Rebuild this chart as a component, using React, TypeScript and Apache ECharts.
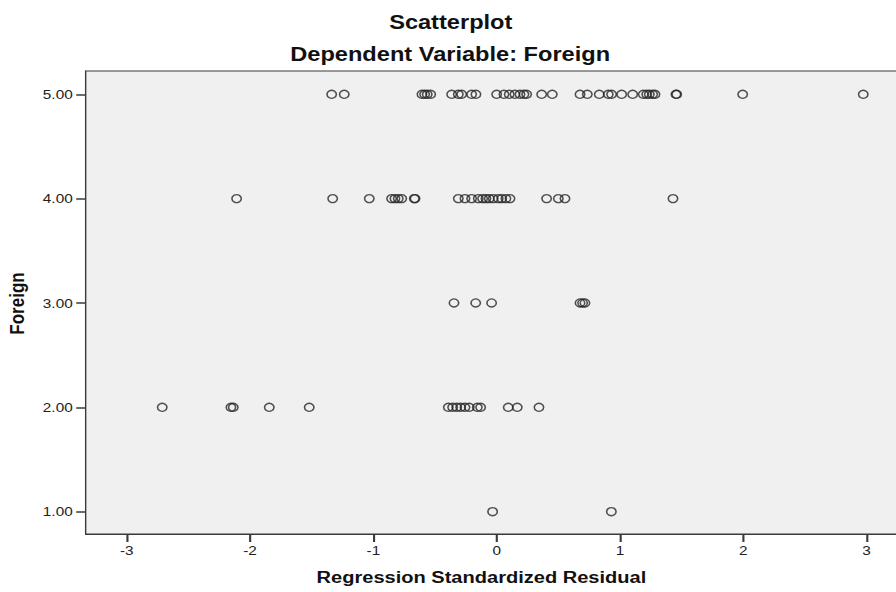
import React, { useEffect, useRef } from "react";
import * as echarts from "echarts";

// Regression standardized residuals, grouped by the observed value of Foreign
const residualsForeign5 = [
  -1.338, -1.236, -0.606, -0.584, -0.563, -0.535, -0.365, -0.311, -0.284, -0.203,
  -0.168, 0.0, 0.059, 0.102, 0.148, 0.189, 0.221, 0.243, 0.365, 0.451, 0.676, 0.735,
  0.832, 0.905, 0.932, 1.014, 1.103, 1.189, 1.217, 1.238, 1.265, 1.284, 1.454, 1.46,
  1.995, 2.973,
];
const residualsForeign4 = [
  -2.109, -1.33, -1.033, -0.852, -0.825, -0.798, -0.77, -0.668, -0.662, -0.311,
  -0.257, -0.203, -0.149, -0.114, -0.087, -0.06, -0.028, 0.013, 0.041, 0.075, 0.108,
  0.405, 0.5, 0.554, 1.43,
];
const residualsForeign3 = [-0.346, -0.17, -0.041, 0.676, 0.697, 0.716];
const residualsForeign2 = [
  -2.712, -2.155, -2.136, -1.844, -1.52, -0.392, -0.357, -0.324, -0.292, -0.257,
  -0.222, -0.157, -0.13, 0.094, 0.167, 0.343,
];
const residualsForeign1 = [-0.033, 0.93];

const foreignLevels = [5, 4, 3, 2, 1];
const residualGroups = [
  residualsForeign5,
  residualsForeign4,
  residualsForeign3,
  residualsForeign2,
  residualsForeign1,
];

const xTickValues = [-3, -2, -1, 0, 1, 2, 3];
const yTickValues = [1, 2, 3, 4, 5];

const titleText = "Scatterplot";
const subtitleText = "Dependent Variable: Foreign";
const xAxisTitle = "Regression Standardized Residual";
const yAxisTitle = "Foreign";

const STRETCH = 1.18;
const W = 780;
const H = 592;
const FONT = "'Liberation Sans', Arial, sans-serif";

export default function App() {
  const ref = useRef<HTMLDivElement>(null);

  useEffect(() => {
    if (!ref.current) return;
    const chart = echarts.init(ref.current, null, { renderer: "svg", width: W, height: H });

    const points: number[][] = [];
    residualGroups.forEach((group, i) => {
      group.forEach((r) => points.push([r, foreignLevels[i]]));
    });

    const axisColor = "#3a3a3a";

    chart.setOption({
      animation: false,
      backgroundColor: "#ffffff",
      grid: {
        left: 72.6,
        right: 10.8,
        top: 71,
        bottom: 58,
        show: true,
        backgroundColor: "#f0f0f0",
        borderColor: axisColor,
        borderWidth: 1,
      },
      xAxis: {
        type: "value",
        min: -3.333,
        max: 3.333,
        splitLine: { show: false },
        axisLine: { show: true, onZero: false, lineStyle: { color: axisColor, width: 1 } },
        axisTick: {
          show: true,
          length: 8,
          customValues: xTickValues,
          lineStyle: { color: axisColor, width: 1.8 },
        },
        axisLabel: {
          customValues: xTickValues,
          fontSize: 13,
          fontFamily: FONT,
          color: "#222",
          margin: 10,
          formatter: (v: number) => String(v),
        },
      },
      yAxis: {
        type: "value",
        min: 0.786,
        max: 5.223,
        splitLine: { show: false },
        axisLine: { show: true, onZero: false, lineStyle: { color: axisColor, width: 1 } },
        axisTick: {
          show: true,
          length: 8,
          customValues: yTickValues,
          lineStyle: { color: axisColor, width: 1.5 },
        },
        axisLabel: {
          customValues: yTickValues,
          fontSize: 13,
          fontFamily: FONT,
          color: "#222",
          margin: 11,
          formatter: (v: number) => v.toFixed(2),
        },
      },
      graphic: [
        {
          type: "text",
          x: 382,
          y: 22,
          style: {
            text: titleText,
            font: `bold 20px ${FONT}`,
            fill: "#111",
            textAlign: "center",
            textVerticalAlign: "middle",
          },
        },
        {
          type: "text",
          x: 381.5,
          y: 54,
          style: {
            text: subtitleText,
            font: `bold 20px ${FONT}`,
            fill: "#111",
            textAlign: "center",
            textVerticalAlign: "middle",
          },
        },
        {
          type: "text",
          x: 408,
          y: 577,
          style: {
            text: xAxisTitle,
            font: `bold 17px ${FONT}`,
            fill: "#111",
            textAlign: "center",
            textVerticalAlign: "middle",
          },
        },
        {
          type: "text",
          x: 14.2,
          y: 303.5,
          rotation: Math.PI / 2,
          style: {
            text: yAxisTitle,
            font: `bold 17px ${FONT}`,
            fill: "#111",
            textAlign: "center",
            textVerticalAlign: "middle",
          },
        },
      ],
      series: [
        {
          type: "scatter",
          data: points,
          symbol: "circle",
          symbolSize: 8,
          itemStyle: {
            color: "rgba(0,0,0,0)",
            borderColor: "#262626",
            borderWidth: 1.35,
          },
          emphasis: { disabled: true },
        },
      ],
    });

    return () => chart.dispose();
  }, []);

  return (
    <div
      style={{
        position: "fixed",
        left: 0,
        top: 0,
        width: 896,
        height: 592,
        overflow: "hidden",
        background: "#fff",
      }}
    >
      <div
        ref={ref}
        style={{
          width: W,
          height: H,
          transform: `scaleX(${STRETCH})`,
          transformOrigin: "0 0",
        }}
      />
    </div>
  );
}
